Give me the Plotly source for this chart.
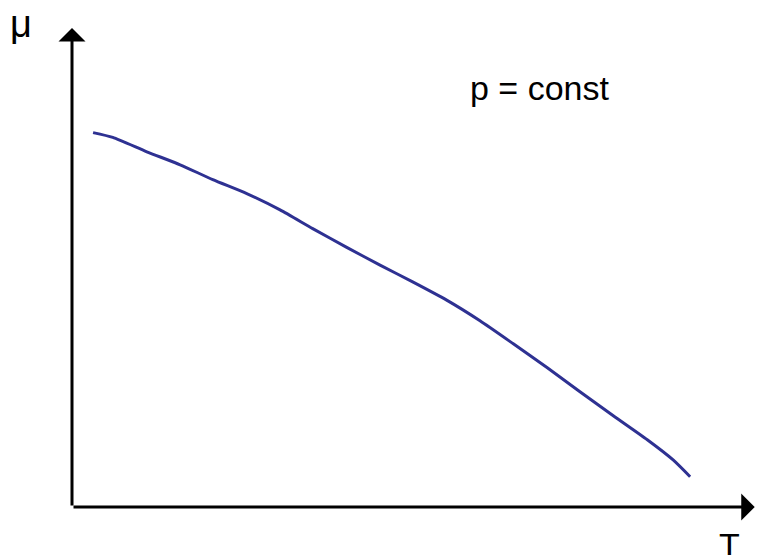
import plotly.graph_objects as go

# Schematic data: chemical potential mu vs temperature T at constant pressure
T_values = [3.1, 6.0, 11.0, 15.9, 20.7, 25.7, 30.6, 35.4, 40.4, 45.3, 50.1, 55.1,
            60.0, 64.9, 69.9, 74.7, 79.6, 84.6, 88.4, 90.9]
mu_values = [78.0, 77.0, 74.0, 71.3, 68.2, 65.3, 61.9, 58.0, 54.1, 50.4, 46.9, 43.1,
             38.8, 34.0, 29.0, 24.0, 19.0, 14.0, 9.8, 6.3]

x_label = "T"
y_label = "μ"
note_text = "p = const"

FONT = "Arial, Liberation Sans, sans-serif"
CURVE_COLOR = "#2E3192"

fig = go.Figure()
fig.add_trace(go.Scatter(
    x=T_values, y=mu_values, mode="lines",
    line=dict(color=CURVE_COLOR, width=3, shape="spline", smoothing=0.6),
    hoverinfo="skip", showlegend=False,
))

# axes with arrowheads
fig.add_annotation(x=100.4, y=0, ax=0, ay=0, xref="x", yref="y", axref="x", ayref="y",
                   text="", showarrow=True, arrowhead=1, arrowsize=1.5, arrowwidth=3,
                   arrowcolor="black", standoff=0, startstandoff=0)
fig.add_annotation(x=0, y=99.8, ax=0, ay=0, xref="x", yref="y", axref="x", ayref="y",
                   text="", showarrow=True, arrowhead=1, arrowsize=1.5, arrowwidth=3,
                   arrowcolor="black", standoff=0, startstandoff=0)

fig.add_annotation(x=-7.5, y=100.6, xref="x", yref="y", text=y_label, showarrow=False,
                   font=dict(family=FONT, size=38, color="black"),
                   xanchor="center", yanchor="middle")
fig.add_annotation(x=96.7, y=-8.0, xref="x", yref="y", text=x_label, showarrow=False,
                   font=dict(family=FONT, size=34, color="black"),
                   xanchor="center", yanchor="middle")
fig.add_annotation(x=58.2, y=87.2, xref="x", yref="y", text=note_text, showarrow=False,
                   font=dict(family=FONT, size=34, color="black"),
                   xanchor="left", yanchor="middle")

fig.update_xaxes(range=[-10.588, 100.735], visible=False, fixedrange=True)
fig.update_yaxes(range=[-10.0, 105.625], visible=False, fixedrange=True)
fig.update_layout(
    width=757, height=555,
    margin=dict(l=0, r=0, t=0, b=0),
    paper_bgcolor="white", plot_bgcolor="white",
    showlegend=False,
)

fig.write_html("out.html", config={"displayModeBar": False},
               post_script="document.body.style.margin='0px';document.body.style.overflow='hidden';")
